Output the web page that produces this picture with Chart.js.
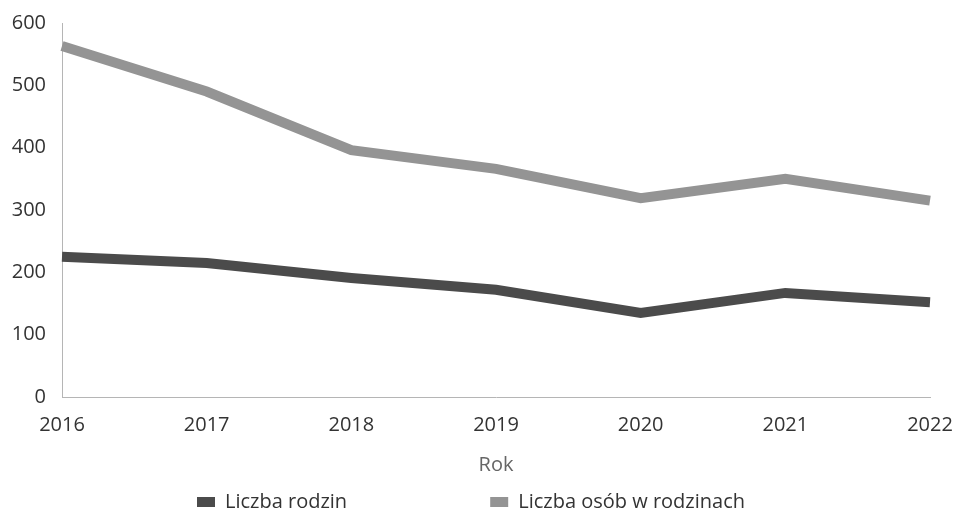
<!DOCTYPE html>
<html>
<head>
<meta charset="utf-8">
<script src="https://cdn.jsdelivr.net/npm/chart.js@4"></script>
<style>
  html, body { margin: 0; padding: 0; background: #fff; }
  #wrap { width: 955px; height: 522px; }
</style>
</head>
<body>
<div id="wrap"><canvas id="rodziny" width="955" height="522"></canvas></div>
<script>
const years = ['2016', '2017', '2018', '2019', '2020', '2021', '2022'];
const liczbaRodzin = [225, 215, 191, 172, 135, 167, 152];
const liczbaOsob = [563, 490, 396, 366, 319, 350, 315];
const yTicks = [0, 100, 200, 300, 400, 500, 600];

Chart.defaults.font.family = '"Open Sans", "Noto Sans", sans-serif';

const ctx = document.getElementById('rodziny');

new Chart(ctx, {
  type: 'line',
  data: {
    labels: years,
    datasets: [{
      label: 'Liczba rodzin' + '\u00a0'.repeat(26),
      data: liczbaRodzin,
      borderColor: '#4b4b4b',
      backgroundColor: '#4b4b4b',
      borderWidth: 10,
      pointRadius: 0,
      tension: 0
    }, {
      label: 'Liczba osób w rodzinach',
      data: liczbaOsob,
      borderColor: '#949494',
      backgroundColor: '#949494',
      borderWidth: 10,
      pointRadius: 0,
      tension: 0
    }]
  },
  options: {
    responsive: false,
    animation: false,
    layout: {
      padding: { left: 12, top: 23, right: 25, bottom: 0 }
    },
    plugins: {
      legend: {
        display: true,
        position: 'bottom',
        labels: {
          boxWidth: 18,
          boxHeight: 10,
          padding: 8,
          color: '#333333',
          font: { size: 20 },
          generateLabels: (chart) => {
            const items = Chart.defaults.plugins.legend.labels.generateLabels(chart);
            items.forEach(it => { it.lineWidth = 0; });
            return items;
          }
        }
      },
      tooltip: { enabled: false }
    },
    scales: {
      x: {
        afterFit: (axis) => {
          axis.paddingLeft = 0;
          axis.paddingRight = 0;
        },
        grid: { display: false, drawTicks: false },
        border: { display: true, color: '#b5b5b5', width: 1, dash: [1, 2] },
        ticks: {
          padding: 16,
          color: '#333333',
          maxRotation: 0,
          font: { size: 20 }
        },
        title: {
          display: true,
          text: 'Rok',
          color: '#666666',
          padding: { top: 0, bottom: 7 },
          font: { size: 20 }
        }
      },
      y: {
        min: 0,
        max: 600,
        afterBuildTicks: (axis) => {
          axis.ticks = yTicks.map(v => ({ value: v }));
        },
        afterFit: (axis) => {
          axis.width = 50;
          axis.paddingTop = 0;
          axis.paddingBottom = 0;
        },
        grid: { display: false, drawTicks: false },
        border: { display: true, color: '#b5b5b5', width: 1, dash: [1, 2] },
        ticks: {
          padding: 16,
          color: '#333333',
          font: { size: 20 }
        }
      }
    }
  }
});
</script>
</body>
</html>
